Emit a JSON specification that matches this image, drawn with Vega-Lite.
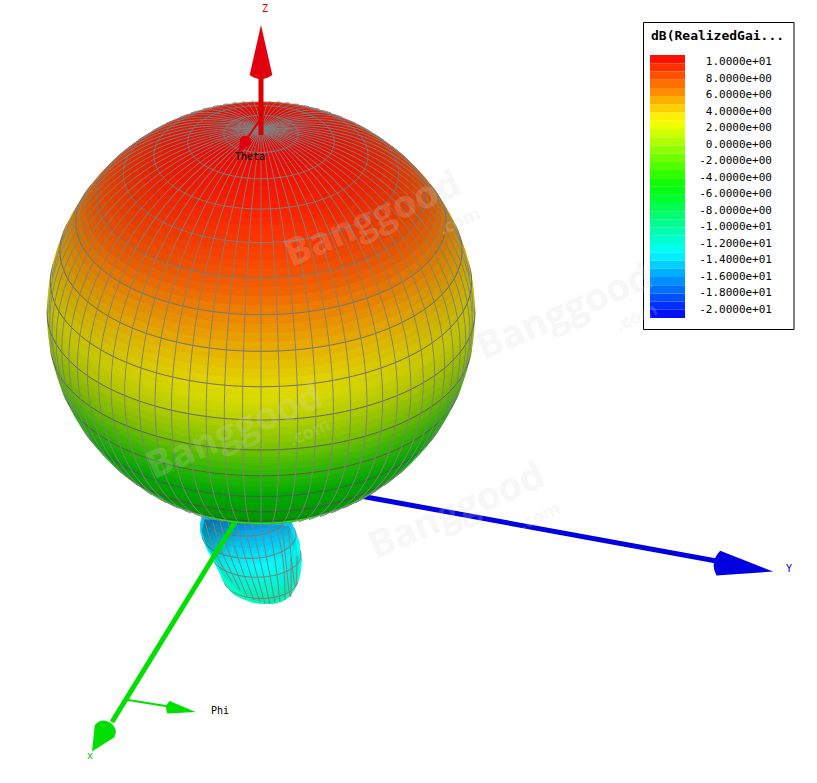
{"$schema":"https://vega.github.io/schema/vega-lite/v6.json","width":817,"height":783,"padding":0,"autosize":"none","background":"white","config":{"view":{"stroke":null}},
"datasets":{
"rings":[{"x":261,"y":481,"radius":81.9,"gain":-5,"gridline":0},{"x":261,"y":477.9,"radius":90.4,"gain":-5,"gridline":0},{"x":261,"y":474.4,"radius":98.8,"gain":-5,"gridline":0},{"x":261,"y":470.5,"radius":107,"gain":-5,"gridline":1},{"x":261,"y":466.4,"radius":115,"gain":-5,"gridline":0},{"x":261,"y":462,"radius":122.7,"gain":-5,"gridline":0},{"x":261,"y":457.3,"radius":130.3,"gain":-5,"gridline":0},{"x":261,"y":452.3,"radius":137.6,"gain":-5,"gridline":1},{"x":261,"y":447.1,"radius":144.6,"gain":-5,"gridline":0},{"x":261,"y":441.6,"radius":151.3,"gain":-5,"gridline":0},{"x":261,"y":435.9,"radius":157.8,"gain":-5,"gridline":0},{"x":261,"y":429.9,"radius":163.9,"gain":-5,"gridline":1},{"x":261,"y":423.7,"radius":169.8,"gain":-5,"gridline":0},{"x":261,"y":417.3,"radius":175.3,"gain":-5,"gridline":0},{"x":261,"y":410.7,"radius":180.5,"gain":-5,"gridline":0},{"x":261,"y":403.9,"radius":185.3,"gain":-5,"gridline":1},{"x":261,"y":397,"radius":189.8,"gain":-4.5,"gridline":0},{"x":261,"y":389.9,"radius":193.9,"gain":-4,"gridline":0},{"x":261,"y":382.6,"radius":197.7,"gain":-3.5,"gridline":0},{"x":261,"y":375.2,"radius":201.1,"gain":-3,"gridline":1},{"x":261,"y":367.7,"radius":204.1,"gain":-2.4,"gridline":0},{"x":261,"y":360.1,"radius":206.7,"gain":-1.7,"gridline":0},{"x":261,"y":352.4,"radius":208.9,"gain":-1,"gridline":0},{"x":261,"y":344.6,"radius":210.7,"gain":-0.3,"gridline":1},{"x":261,"y":336.7,"radius":212.2,"gain":0.3,"gridline":0},{"x":261,"y":328.9,"radius":213.2,"gain":0.8,"gridline":0},{"x":261,"y":320.9,"radius":213.8,"gain":1.3,"gridline":0},{"x":261,"y":313,"radius":214,"gain":1.8,"gridline":1},{"x":261,"y":305.1,"radius":213.8,"gain":2.1,"gridline":0},{"x":261,"y":297.1,"radius":213.2,"gain":2.4,"gridline":0},{"x":261,"y":289.3,"radius":212.2,"gain":2.7,"gridline":0},{"x":261,"y":281.4,"radius":210.7,"gain":3,"gridline":1},{"x":261,"y":273.6,"radius":208.9,"gain":3.35,"gridline":0},{"x":261,"y":265.9,"radius":206.7,"gain":3.7,"gridline":0},{"x":261,"y":258.3,"radius":204.1,"gain":4.1,"gridline":0},{"x":261,"y":250.8,"radius":201.1,"gain":4.5,"gridline":1},{"x":261,"y":243.4,"radius":197.7,"gain":4.9,"gridline":0},{"x":261,"y":236.1,"radius":193.9,"gain":5.3,"gridline":0},{"x":261,"y":229,"radius":189.8,"gain":5.7,"gridline":0},{"x":261,"y":222.1,"radius":185.3,"gain":6.1,"gridline":1},{"x":261,"y":215.3,"radius":180.5,"gain":6.5,"gridline":0},{"x":261,"y":208.7,"radius":175.3,"gain":6.9,"gridline":0},{"x":261,"y":202.3,"radius":169.8,"gain":7.2,"gridline":0},{"x":261,"y":196.1,"radius":163.9,"gain":7.5,"gridline":1},{"x":261,"y":190.1,"radius":157.8,"gain":7.75,"gridline":0},{"x":261,"y":184.4,"radius":151.3,"gain":8,"gridline":0},{"x":261,"y":178.9,"radius":144.6,"gain":8.2,"gridline":0},{"x":261,"y":173.7,"radius":137.6,"gain":8.4,"gridline":1},{"x":261,"y":168.7,"radius":130.3,"gain":8.6,"gridline":0},{"x":261,"y":164,"radius":122.7,"gain":8.8,"gridline":0},{"x":261,"y":159.6,"radius":115,"gain":8.95,"gridline":0},{"x":261,"y":155.5,"radius":107,"gain":9.1,"gridline":1},{"x":261,"y":151.6,"radius":98.8,"gain":9.2,"gridline":0},{"x":261,"y":148.1,"radius":90.4,"gain":9.3,"gridline":0},{"x":261,"y":145,"radius":81.9,"gain":9.4,"gridline":0},{"x":261,"y":142.1,"radius":73.2,"gain":9.5,"gridline":1},{"x":261,"y":139.5,"radius":64.4,"gain":9.6,"gridline":0},{"x":261,"y":137.3,"radius":55.4,"gain":9.7,"gridline":0},{"x":261,"y":135.4,"radius":46.3,"gain":9.8,"gridline":0},{"x":261,"y":133.9,"radius":37.2,"gain":9.85,"gridline":1},{"x":261,"y":132.7,"radius":27.9,"gain":9.9,"gridline":0},{"x":261,"y":131.8,"radius":18.7,"gain":9.95,"gridline":0},{"x":261,"y":131.3,"radius":9.3,"gain":10,"gridline":0}],
"lobe":[{"x":270,"y":598,"radius":12,"gain":-10.3,"gridline":0},{"x":269,"y":594,"radius":20,"gain":-10.3,"gridline":0},{"x":265,"y":590,"radius":28,"gain":-10.3,"gridline":0},{"x":262,"y":585,"radius":34,"gain":-10.4,"gridline":0},{"x":261,"y":580,"radius":37,"gain":-10.6,"gridline":1},{"x":260.5,"y":575,"radius":39.5,"gain":-10.9,"gridline":0},{"x":260,"y":570,"radius":41,"gain":-11.2,"gridline":0},{"x":259,"y":565,"radius":42.5,"gain":-11.5,"gridline":0},{"x":258,"y":560,"radius":44,"gain":-11.7,"gridline":0},{"x":256.5,"y":555,"radius":44.5,"gain":-12,"gridline":1},{"x":254.5,"y":550,"radius":45.5,"gain":-12.3,"gridline":0},{"x":253,"y":545,"radius":47,"gain":-12.5,"gridline":0},{"x":251,"y":540,"radius":47,"gain":-12.8,"gridline":0},{"x":249,"y":535,"radius":47,"gain":-13.2,"gridline":1},{"x":247,"y":530,"radius":47,"gain":-13.5,"gridline":0},{"x":246,"y":525,"radius":46,"gain":-13.9,"gridline":0},{"x":245.5,"y":520,"radius":44.5,"gain":-14.2,"gridline":0},{"x":245.5,"y":515,"radius":42.5,"gain":-14.6,"gridline":1},{"x":245,"y":510,"radius":41,"gain":-15,"gridline":0},{"x":245,"y":505,"radius":40,"gain":-15.5,"gridline":0}],
"lobeLines":[{"m":1,"x":205,"y":522},{"m":1,"x":215,"y":552},{"m":1,"x":232,"y":582},{"m":2,"x":213,"y":522},{"m":2,"x":222,"y":552},{"m":2,"x":240,"y":590},{"m":3,"x":220,"y":522},{"m":3,"x":230,"y":555},{"m":3,"x":247,"y":596},{"m":4,"x":228,"y":522},{"m":4,"x":238,"y":558},{"m":4,"x":254,"y":600},{"m":5,"x":236,"y":522},{"m":5,"x":246,"y":560},{"m":5,"x":260,"y":602},{"m":6,"x":244,"y":522},{"m":6,"x":253,"y":560},{"m":6,"x":265,"y":604},{"m":7,"x":252,"y":522},{"m":7,"x":260,"y":560},{"m":7,"x":270,"y":604},{"m":8,"x":260,"y":522},{"m":8,"x":267,"y":560},{"m":8,"x":275,"y":603},{"m":9,"x":268,"y":522},{"m":9,"x":275,"y":560},{"m":9,"x":280,"y":602},{"m":10,"x":275,"y":522},{"m":10,"x":283,"y":560},{"m":10,"x":285,"y":600},{"m":11,"x":282,"y":522},{"m":11,"x":291,"y":558},{"m":11,"x":290,"y":596},{"m":12,"x":288,"y":525},{"m":12,"x":297,"y":556},{"m":12,"x":295,"y":586}],
"meridians":[{"x":261,"y":313,"radius":212,"tilt":"t0","angle":90},{"x":261,"y":313,"radius":212,"tilt":"t5","angle":87.5},{"x":261,"y":313,"radius":212,"tilt":"t10","angle":85},{"x":261,"y":313,"radius":212,"tilt":"t15","angle":82.4},{"x":261,"y":313,"radius":212,"tilt":"t20","angle":79.7},{"x":261,"y":313,"radius":212,"tilt":"t25","angle":76.9},{"x":261,"y":313,"radius":212,"tilt":"t30","angle":73.9},{"x":261,"y":313,"radius":212,"tilt":"t35","angle":70.7},{"x":261,"y":313,"radius":212,"tilt":"t40","angle":67.2},{"x":261,"y":313,"radius":212,"tilt":"t45","angle":63.4},{"x":261,"y":313,"radius":212,"tilt":"t50","angle":59.2},{"x":261,"y":313,"radius":212,"tilt":"t55","angle":54.5},{"x":261,"y":313,"radius":212,"tilt":"t60","angle":49.1},{"x":261,"y":313,"radius":212,"tilt":"t65","angle":43},{"x":261,"y":313,"radius":212,"tilt":"t70","angle":36.1},{"x":261,"y":313,"radius":212,"tilt":"t75","angle":28.2},{"x":261,"y":313,"radius":212,"tilt":"t80","angle":19.4},{"x":261,"y":313,"radius":212,"tilt":"t85","angle":9.9},{"x":261,"y":313,"radius":212,"tilt":"t90","angle":0},{"x":261,"y":313,"radius":212,"tilt":"t85","angle":-9.9},{"x":261,"y":313,"radius":212,"tilt":"t80","angle":-19.4},{"x":261,"y":313,"radius":212,"tilt":"t75","angle":-28.2},{"x":261,"y":313,"radius":212,"tilt":"t70","angle":-36.1},{"x":261,"y":313,"radius":212,"tilt":"t65","angle":-43},{"x":261,"y":313,"radius":212,"tilt":"t60","angle":-49.1},{"x":261,"y":313,"radius":212,"tilt":"t55","angle":-54.5},{"x":261,"y":313,"radius":212,"tilt":"t50","angle":-59.2},{"x":261,"y":313,"radius":212,"tilt":"t45","angle":-63.4},{"x":261,"y":313,"radius":212,"tilt":"t40","angle":-67.2},{"x":261,"y":313,"radius":212,"tilt":"t35","angle":-70.7},{"x":261,"y":313,"radius":212,"tilt":"t30","angle":-73.9},{"x":261,"y":313,"radius":212,"tilt":"t25","angle":-76.9},{"x":261,"y":313,"radius":212,"tilt":"t20","angle":-79.7},{"x":261,"y":313,"radius":212,"tilt":"t15","angle":-82.4},{"x":261,"y":313,"radius":212,"tilt":"t10","angle":-85},{"x":261,"y":313,"radius":212,"tilt":"t5","angle":-87.5}],
"shafts":[{"axis":"Y","x":355,"y":495},{"axis":"Y","x":722,"y":562},{"axis":"X","x":235,"y":522},{"axis":"X","x":112,"y":722},{"axis":"Z","x":261,"y":135},{"axis":"Z","x":261,"y":72},{"axis":"Phi","x":128,"y":700},{"axis":"Phi","x":172,"y":707},{"axis":"Theta","x":262,"y":117},{"axis":"Theta","x":248,"y":137}],
"cones":[{"axis":"Y","form":"slim","x":743.5,"y":567,"radius":30,"angle":98.7},{"axis":"X","form":"fat","x":101,"y":737,"radius":17,"angle":212},{"axis":"Z","form":"slim","x":261,"y":52,"radius":27,"angle":0},{"axis":"Phi","form":"slim","x":181,"y":709.5,"radius":15,"angle":99.8},{"axis":"Theta","form":"fat","x":243.5,"y":144.5,"radius":9,"angle":211}],
"labels":[{"t":"Z","x":265,"y":9,"c":"red"},{"t":"Y","x":789,"y":569,"c":"blue"},{"t":"x","x":90,"y":756,"c":"green"},{"t":"Theta","x":250,"y":157,"c":"black"},{"t":"Phi","x":220,"y":711,"c":"black"}],
"frame":[{"x":643.5,"x1":794,"y":22.5,"y1":329.5}],
"bands":[{"x":650,"x1":685,"y":55,"y1":63.2,"gain":9.53},{"x":650,"x1":685,"y":63.2,"y1":71.4,"gain":8.59},{"x":650,"x1":685,"y":71.4,"y1":79.7,"gain":7.66},{"x":650,"x1":685,"y":79.7,"y1":87.9,"gain":6.72},{"x":650,"x1":685,"y":87.9,"y1":96.1,"gain":5.78},{"x":650,"x1":685,"y":96.1,"y1":104.3,"gain":4.84},{"x":650,"x1":685,"y":104.3,"y1":112.5,"gain":3.91},{"x":650,"x1":685,"y":112.5,"y1":120.8,"gain":2.97},{"x":650,"x1":685,"y":120.8,"y1":129,"gain":2.03},{"x":650,"x1":685,"y":129,"y1":137.2,"gain":1.09},{"x":650,"x1":685,"y":137.2,"y1":145.4,"gain":0.16},{"x":650,"x1":685,"y":145.4,"y1":153.6,"gain":-0.78},{"x":650,"x1":685,"y":153.6,"y1":161.9,"gain":-1.72},{"x":650,"x1":685,"y":161.9,"y1":170.1,"gain":-2.66},{"x":650,"x1":685,"y":170.1,"y1":178.3,"gain":-3.59},{"x":650,"x1":685,"y":178.3,"y1":186.5,"gain":-4.53},{"x":650,"x1":685,"y":186.5,"y1":194.7,"gain":-5.47},{"x":650,"x1":685,"y":194.7,"y1":203,"gain":-6.41},{"x":650,"x1":685,"y":203,"y1":211.2,"gain":-7.34},{"x":650,"x1":685,"y":211.2,"y1":219.4,"gain":-8.28},{"x":650,"x1":685,"y":219.4,"y1":227.6,"gain":-9.22},{"x":650,"x1":685,"y":227.6,"y1":235.8,"gain":-10.16},{"x":650,"x1":685,"y":235.8,"y1":244.1,"gain":-11.09},{"x":650,"x1":685,"y":244.1,"y1":252.3,"gain":-12.03},{"x":650,"x1":685,"y":252.3,"y1":260.5,"gain":-12.97},{"x":650,"x1":685,"y":260.5,"y1":268.7,"gain":-13.91},{"x":650,"x1":685,"y":268.7,"y1":276.9,"gain":-14.84},{"x":650,"x1":685,"y":276.9,"y1":285.2,"gain":-15.78},{"x":650,"x1":685,"y":285.2,"y1":293.4,"gain":-16.72},{"x":650,"x1":685,"y":293.4,"y1":301.6,"gain":-17.66},{"x":650,"x1":685,"y":301.6,"y1":309.8,"gain":-18.59},{"x":650,"x1":685,"y":309.8,"y1":318,"gain":-19.53}],
"ticks":[{"t":"1.0000e+01","x":772,"y":62.3},{"t":"8.0000e+00","x":772,"y":78.8},{"t":"6.0000e+00","x":772,"y":95.3},{"t":"4.0000e+00","x":772,"y":111.8},{"t":"2.0000e+00","x":772,"y":128.3},{"t":"0.0000e+00","x":772,"y":144.8},{"t":"-2.0000e+00","x":772,"y":161.3},{"t":"-4.0000e+00","x":772,"y":177.8},{"t":"-6.0000e+00","x":772,"y":194.3},{"t":"-8.0000e+00","x":772,"y":210.8},{"t":"-1.0000e+01","x":772,"y":227.3},{"t":"-1.2000e+01","x":772,"y":243.8},{"t":"-1.4000e+01","x":772,"y":260.3},{"t":"-1.6000e+01","x":772,"y":276.8},{"t":"-1.8000e+01","x":772,"y":293.3},{"t":"-2.0000e+01","x":772,"y":310}],
"marks":[{"t":"Banggood","x":373,"y":220,"angle":-23.5},{"t":"Banggood","x":565,"y":313,"angle":-23.5},{"t":"Banggood","x":235,"y":432,"angle":-23.5},{"t":"Banggood","x":457,"y":512,"angle":-23.5}],
"marks2":[{"t":".com","x":460,"y":222,"angle":-23.5},{"t":".com","x":637,"y":318,"angle":-23.5},{"t":".com","x":310,"y":433,"angle":-23.5},{"t":".com","x":540,"y":517,"angle":-23.5}]
},
"resolve":{"scale":{"shape":"independent"}},
"encoding":{"x":{"field":"x","type":"quantitative","axis":null,"scale":{"domain":[0,817],"nice":false,"zero":false}},"y":{"field":"y","type":"quantitative","axis":null,"scale":{"domain":[0,783],"reverse":true,"nice":false,"zero":false}}},
"layer":[
{"data":{"name":"shafts"},"transform":[{"filter":"datum.axis==='Y'"}],"mark":{"type":"line","strokeWidth":5,"color":"#0000e0"},"encoding":{"detail":{"field":"axis"}}},
{"data":{"name":"lobe"},"mark":{"type":"point","filled":true,"opacity":1,"shape":"M-1,0A1,.5,0,1,1,1,0A1,.5,0,1,1,-1,0Z","stroke":"#808080","strokeWidth":1},"encoding":{"size":{"field":"radius","type":"quantitative","legend":null,"scale":{"type":"pow","exponent":2,"domain":[0,214],"range":[0,183184]}},"fill":{"field":"gain","type":"quantitative","legend":null,"scale":{"domain":[-20,-12.5,-5,2.5,10],"range":["#0000ff","#00ffff","#00ff00","#ffff00","#ff0000"],"interpolate":"rgb"}},"strokeOpacity":{"field":"gridline","type":"quantitative","legend":null,"scale":{"domain":[0,1],"range":[0,1]}}}},
{"data":{"values":[{"x":251,"y":560,"radius":55}]},"mark":{"type":"point","filled":true,"opacity":1,"shape":"M-.84,-.74L-.9,-.53L-.81,-.26L-.67,-.04L-.49,.32L-.24,.56L.04,.74L.34,.78L.63,.67L.82,.35L.88,0L.81,-.35L.69,-.62Z","fill":{"gradient":"radial","x1":0.62,"y1":0.55,"r1":0,"x2":0.62,"y2":0.55,"r2":0.7,"stops":[{"offset":0,"color":"rgba(0,0,0,0)"},{"offset":0.5,"color":"rgba(0,0,0,0.06)"},{"offset":1,"color":"rgba(0,0,0,0.32)"}]}},"encoding":{"size":{"field":"radius","type":"quantitative","legend":null,"scale":{"type":"pow","exponent":2,"domain":[0,214],"range":[0,183184]}}}},
{"data":{"name":"lobeLines"},"mark":{"type":"line","interpolate":"natural","stroke":"#808080","strokeWidth":1},"encoding":{"detail":{"field":"m"}}},
{"data":{"name":"rings"},"mark":{"type":"point","filled":true,"opacity":1,"shape":"M-1,0A1,.5,0,1,1,1,0A1,.5,0,1,1,-1,0Z","stroke":"#808080","strokeWidth":1},"encoding":{"size":{"field":"radius","type":"quantitative","legend":null,"scale":{"type":"pow","exponent":2,"domain":[0,214],"range":[0,183184]}},"fill":{"field":"gain","type":"quantitative","legend":null,"scale":{"domain":[-20,-12.5,-5,2.5,10],"range":["#0000ff","#00ffff","#00ff00","#ffff00","#ff0000"],"interpolate":"rgb"}},"strokeOpacity":{"field":"gridline","type":"quantitative","legend":null,"scale":{"domain":[0,1],"range":[0,1]}}}},
{"data":{"values":[{"x":261,"y":313,"radius":214}]},"mark":{"type":"point","filled":true,"opacity":1,"shape":"M-1,0A1,.98,0,1,1,1,0A1,.98,0,1,1,-1,0Z","fill":{"gradient":"radial","x1":0.5,"y1":0.3,"r1":0,"x2":0.5,"y2":0.3,"r2":0.75,"stops":[{"offset":0,"color":"rgba(0,0,0,0)"},{"offset":0.5,"color":"rgba(0,0,0,0.12)"},{"offset":0.8,"color":"rgba(0,0,0,0.3)"},{"offset":1,"color":"rgba(0,0,0,0.5)"}]}},"encoding":{"size":{"field":"radius","type":"quantitative","legend":null,"scale":{"type":"pow","exponent":2,"domain":[0,214],"range":[0,183184]}}}},
{"data":{"name":"meridians"},"mark":{"type":"point","filled":false,"opacity":1,"stroke":"#808080","strokeWidth":0.9},"encoding":{"size":{"field":"radius","type":"quantitative","legend":null,"scale":{"type":"pow","exponent":2,"domain":[0,214],"range":[0,183184]}},"angle":{"field":"angle","type":"quantitative","scale":{"domain":[-180,360],"range":[-180,360]}},"shape":{"field":"tilt","type":"nominal","legend":null,"scale":{"domain":["t0","t5","t10","t15","t20","t25","t30","t35","t40","t45","t50","t55","t60","t65","t70","t75","t80","t85","t90"],"range":["M-1,0L1,0","M-1,0A1,.0755,0,0,1,1,0","M-1,0A1,.15,0,0,1,1,0","M-1,0A1,.224,0,0,1,1,0","M-1,0A1,.296,0,0,1,1,0","M-1,0A1,.366,0,0,1,1,0","M-1,0A1,.433,0,0,1,1,0","M-1,0A1,.497,0,0,1,1,0","M-1,0A1,.557,0,0,1,1,0","M-1,0A1,.612,0,0,1,1,0","M-1,0A1,.663,0,0,1,1,0","M-1,0A1,.709,0,0,1,1,0","M-1,0A1,.75,0,0,1,1,0","M-1,0A1,.785,0,0,1,1,0","M-1,0A1,.814,0,0,1,1,0","M-1,0A1,.836,0,0,1,1,0","M-1,0A1,.853,0,0,1,1,0","M-1,0A1,.863,0,0,1,1,0","M-1,0A1,.866,0,0,1,1,0"]}}}},
{"data":{"name":"shafts"},"transform":[{"filter":"datum.axis==='X'"}],"mark":{"type":"line","strokeWidth":5,"color":"#00e000"},"encoding":{"detail":{"field":"axis"}}},
{"data":{"name":"shafts"},"transform":[{"filter":"datum.axis==='Z'"}],"mark":{"type":"line","strokeWidth":5,"color":"#d80000"},"encoding":{"detail":{"field":"axis"}}},
{"data":{"name":"shafts"},"transform":[{"filter":"datum.axis==='Phi'"}],"mark":{"type":"line","strokeWidth":2,"color":"#00e000"},"encoding":{"detail":{"field":"axis"}}},
{"data":{"name":"shafts"},"transform":[{"filter":"datum.axis==='Theta'"}],"mark":{"type":"line","strokeWidth":2,"color":"#e00000"},"encoding":{"detail":{"field":"axis"}}},
{"data":{"name":"cones"},"mark":{"type":"point","filled":true,"opacity":1},"encoding":{"size":{"field":"radius","type":"quantitative","legend":null,"scale":{"type":"pow","exponent":2,"domain":[0,214],"range":[0,183184]}},"angle":{"field":"angle","type":"quantitative","scale":{"domain":[-180,360],"range":[-180,360]}},"shape":{"field":"form","type":"nominal","legend":null,"scale":{"domain":["slim","fat"],"range":["M0,-1L.42,.85Q0,1.15,-.42,.85Z","M0,-1L.68,.4Q.6,1,0,1Q-.6,1,-.68,.4Z"]}},"fill":{"field":"axis","type":"nominal","legend":null,"scale":{"domain":["X","Y","Z","Phi","Theta"],"range":["#00e000","#0000e0","#e00010","#00e000","#e00010"]}}}},
{"data":{"name":"labels"},"mark":{"type":"text","font":"DejaVu Sans Mono","fontSize":10,"align":"center","baseline":"middle"},"encoding":{"text":{"field":"t"},"color":{"field":"c","type":"nominal","legend":null,"scale":{"domain":["red","blue","green","black"],"range":["#d00000","#0000d0","#00c000","#000000"]}}}},
{"data":{"name":"frame"},"mark":{"type":"rect","fill":"white","stroke":"black","strokeWidth":1},"encoding":{"x2":{"field":"x1"},"y2":{"field":"y1"}}},
{"data":{"name":"bands"},"mark":{"type":"rect"},"encoding":{"x2":{"field":"x1"},"y2":{"field":"y1"},"fill":{"field":"gain","type":"quantitative","legend":null,"scale":{"domain":[-20,-12.5,-5,2.5,10],"range":["#0000ff","#00ffff","#00ff00","#ffff00","#ff0000"],"interpolate":"rgb"}}}},
{"data":{"values":[{"t":"dB(RealizedGai...","x":651,"y":36}]},"mark":{"type":"text","font":"DejaVu Sans Mono","fontWeight":"bold","fontSize":13,"align":"left","baseline":"middle","color":"#000000"},"encoding":{"text":{"field":"t"}}},
{"data":{"name":"ticks"},"mark":{"type":"text","font":"DejaVu Sans Mono","fontSize":11,"align":"right","baseline":"middle","color":"#000000"},"encoding":{"text":{"field":"t"}}},
{"data":{"name":"marks"},"mark":{"type":"text","font":"Open Sans","fontWeight":"bold","fontSize":38,"align":"center","baseline":"middle","color":"#d8d8d8","opacity":0.2},"encoding":{"text":{"field":"t"},"angle":{"field":"angle","type":"quantitative","scale":{"domain":[-180,360],"range":[-180,360]}}}},
{"data":{"name":"marks2"},"mark":{"type":"text","font":"Open Sans","fontWeight":"bold","fontSize":18,"align":"center","baseline":"middle","color":"#d8d8d8","opacity":0.2},"encoding":{"text":{"field":"t"},"angle":{"field":"angle","type":"quantitative","scale":{"domain":[-180,360],"range":[-180,360]}}}}
]}
